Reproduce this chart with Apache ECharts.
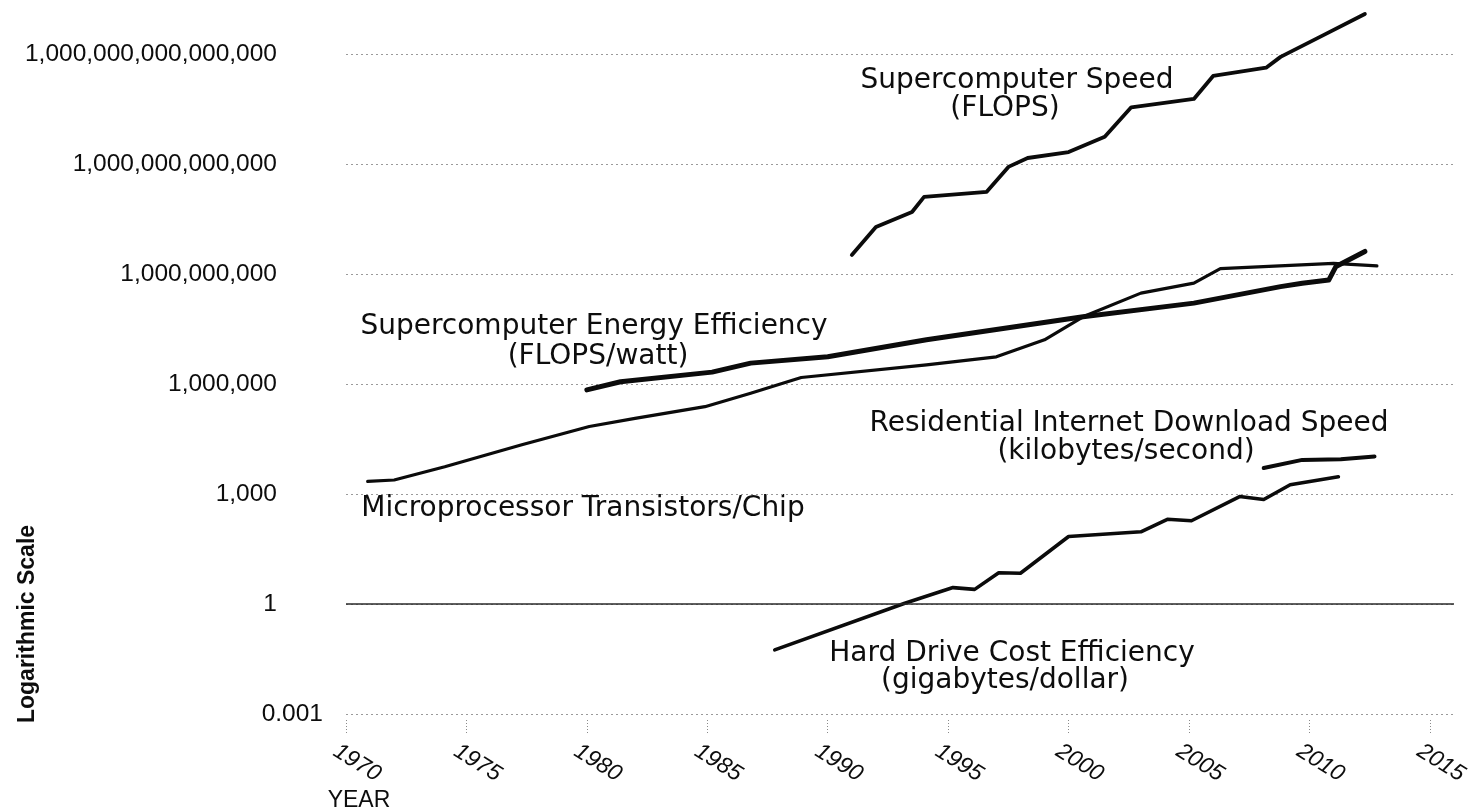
<!DOCTYPE html>
<html>
<head>
<meta charset="utf-8">
<script src="https://cdn.jsdelivr.net/npm/echarts@6/dist/echarts.min.js"></script>
<style>
  html, body { margin: 0; padding: 0; background: #ffffff; }
  #chart { width: 1478px; height: 810px; }
</style>
</head>
<body>
<div id="chart"></div>
<script>
// ---------------- data ----------------
const xTickYears = [1970, 1975, 1980, 1985, 1990, 1995, 2000, 2005, 2010, 2015];
const yTickValues = [0.001, 1, 1e3, 1e6, 1e9, 1e12, 1e15];
const yTickLabels = ['0.001', '1', '1,000', '1,000,000', '1,000,000,000', '1,000,000,000,000', '1,000,000,000,000,000'];

const speedYears = [1991, 1992, 1993.5, 1994, 1996.6, 1997.5, 1998.3, 2000, 2001.5, 2002.6, 2005.2, 2006, 2008.2, 2008.8, 2010.6, 2012.3];
const speedFlops = [3.3e9, 1.9e10, 4.9e10, 1.26e11, 1.74e11, 8.3e11, 1.45e12, 2.1e12, 5.5e12, 3.5e13, 5.9e13, 2.5e14, 4.2e14, 8.3e14, 3.3e15, 1.23e16];

const effYears = [1980, 1981.4, 1985.2, 1986.8, 1990, 1994.1, 2000.6, 2005.2, 2008.8, 2009.7, 2010.8, 2011.1, 2012.3];
const effFlopsPerWatt = [6.9e5, 1.15e6, 2.1e6, 3.7e6, 5.5e6, 1.6e7, 6.8e7, 1.6e8, 4.5e8, 5.6e8, 6.8e8, 1.6e9, 4.1e9];

const microYears = [1970.9, 1972, 1974.1, 1977.3, 1980.1, 1982, 1984.9, 1986.8, 1988.9, 1994.1, 1997, 1999, 2000.6, 2003, 2005.2, 2006.3, 2011, 2012.8];
const microTransistors = [2.2e3, 2.4e3, 5.5e3, 2.2e4, 6.9e4, 1.15e5, 2.4e5, 5.6e5, 1.5e6, 3.3e6, 5.5e6, 1.6e7, 6.8e7, 3.0e8, 5.6e8, 1.4e9, 1.95e9, 1.66e9];

const netYears = [2008.1, 2009.7, 2011.3, 2012.7];
const netKBps = [5.1e3, 8.5e3, 8.9e3, 1.05e4];

const hddYears = [1987.8, 1993.2, 1995.2, 1996.1, 1997.1, 1998, 2000, 2003, 2004.1, 2005.1, 2007.1, 2008.1, 2009.2, 2011.2];
const hddGBperDollar = [0.056, 1.05, 2.8, 2.5, 7.1, 6.9, 69, 93, 204, 186, 851, 708, 1780, 2950];

const seriesNames = ['Supercomputer Speed', 'Supercomputer Energy Efficiency', 'Microprocessor Transistors/Chip', 'Residential Internet Download Speed', 'Hard Drive Cost Efficiency'];
// ------------------------------------------------------------------------

function pairs(xs, ys) { return xs.map((x, i) => [x, ys[i]]); }

const chart = echarts.init(document.getElementById('chart'), null, { renderer: 'canvas' });

const LINE = '#0b0b0b';
const TEXT = '#0d0d0d';
const ANN_FONT = '28px "DejaVu Sans", sans-serif';

function ann(text, cx, cy) {
  return {
    type: 'text', x: cx, y: cy, silent: true,
    style: { text: text, x: 0, y: 0, font: ANN_FONT, fill: TEXT,
             align: 'center', verticalAlign: 'middle', textAlign: 'center', textVerticalAlign: 'middle' }
  };
}

function yLabel(value) {
  let best = 0, bestD = Infinity;
  for (let i = 0; i < yTickValues.length; i++) {
    const d = Math.abs(Math.log10(value) - Math.log10(yTickValues[i]));
    if (d < bestD) { bestD = d; best = i; }
  }
  const lab = yTickLabels[best];
  return best === 0 ? '{n|' + lab + '}' : '{n|' + lab + '}{g| }';
}

function lineSeries(name, xs, ys, width) {
  return {
    name: name, type: 'line', data: pairs(xs, ys),
    showSymbol: false, symbol: 'none', smooth: false,
    lineStyle: { color: LINE, width: width, cap: 'round', join: 'round' },
    itemStyle: { color: LINE },
    emphasis: { disabled: true }, silent: true, animation: false
  };
}

const series = [
  lineSeries(seriesNames[0], speedYears, speedFlops, 3.8),
  lineSeries(seriesNames[1], effYears, effFlopsPerWatt, 5),
  lineSeries(seriesNames[2], microYears, microTransistors, 3.2),
  lineSeries(seriesNames[3], netYears, netKBps, 4),
  lineSeries(seriesNames[4], hddYears, hddGBperDollar, 3.6)
];
series[4].markLine = {
  silent: true, symbol: 'none', animation: false,
  label: { show: false },
  lineStyle: { color: '#2a2a2a', width: 1.5, type: 'solid' },
  data: [{ yAxis: 1 }]
};

chart.setOption({
  animation: false,
  backgroundColor: '#ffffff',
  grid: { left: 346, right: 24, top: 0, bottom: 96, containLabel: false, outerBoundsMode: 'none' },
  xAxis: {
    type: 'value', min: 1970, max: 2016, offset: 6,
    axisLine: { show: false },
    splitLine: { show: false },
    axisTick: { show: true, customValues: xTickYears, length: 15,
                lineStyle: { color: '#8a8a8a', width: 1, type: [1, 2] } },
    axisLabel: {
      customValues: xTickYears, rotate: -32, align: 'center', verticalAlign: 'middle',
      margin: 36, padding: [0, 0, 0, 26],
      fontFamily: '"Liberation Sans", sans-serif', fontStyle: 'italic', fontSize: 23, color: TEXT,
      formatter: function (v) { return String(Math.round(v)); }
    }
  },
  yAxis: {
    type: 'log', logBase: 1000, min: 0.001, max: Math.pow(10, 16.47),
    axisLine: { show: false },
    axisTick: { show: false, customValues: yTickValues },
    splitLine: { show: true, lineStyle: { color: '#9a9a9a', width: 1, type: [2, 3] } },
    axisLabel: {
      customValues: yTickValues, margin: 23,
      formatter: yLabel,
      rich: {
        n: { fontFamily: '"Liberation Sans", sans-serif', fontSize: 24.5, color: TEXT },
        g: { width: 46, fontSize: 24 }
      }
    }
  },
  graphic: [
    ann('Supercomputer Speed', 1017, 81),
    ann('(FLOPS)', 1005, 109),
    ann('Supercomputer Energy Efficiency', 594, 327),
    ann('(FLOPS/watt)', 598, 357),
    ann('Microprocessor Transistors/Chip', 583, 509),
    ann('Residential Internet Download Speed', 1129, 424),
    ann('(kilobytes/second)', 1126, 452),
    ann('Hard Drive Cost Efficiency', 1012, 654),
    ann('(gigabytes/dollar)', 1005, 681),
    {
      type: 'text', x: 359, y: 801, silent: true,
      style: { text: 'YEAR', x: 0, y: 0, font: '23px "Liberation Sans", sans-serif', fill: TEXT,
               align: 'center', verticalAlign: 'middle', textAlign: 'center', textVerticalAlign: 'middle' }
    },
    {
      type: 'text', x: 28, y: 624, rotation: Math.PI / 2, silent: true,
      style: { text: 'Logarithmic Scale', x: 0, y: 0, font: 'bold 23px "Liberation Sans", sans-serif', fill: TEXT,
               align: 'center', verticalAlign: 'middle', textAlign: 'center', textVerticalAlign: 'middle' }
    }
  ],
  series: series
});
</script>
</body>
</html>
